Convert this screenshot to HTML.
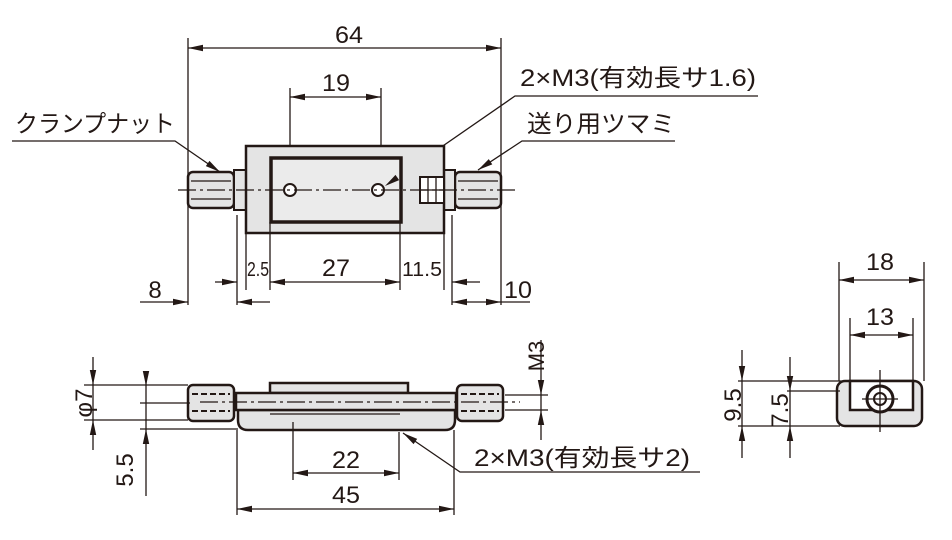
<!DOCTYPE html>
<html><head><meta charset="utf-8"><style>
html,body{margin:0;padding:0;background:#fff;width:952px;height:540px;overflow:hidden}
svg{display:block}
text{font-family:"Liberation Sans","Noto Sans CJK JP",sans-serif;fill:#231815}
</style></head><body>
<svg width="952" height="540" viewBox="0 0 952 540" xmlns="http://www.w3.org/2000/svg" xmlns:xlink="http://www.w3.org/1999/xlink">
<defs>
<path id="r" d="M-15,-3.2 L0,0 L-15,3.2 Z" fill="#231815"/>
</defs>
<g stroke="#231815" stroke-width="1.3" fill="none">
<line x1="188" y1="38" x2="188" y2="305"/><line x1="501" y1="38" x2="501" y2="305"/>
<line x1="188" y1="48" x2="501" y2="48"/>
<line x1="290" y1="88" x2="290" y2="200"/><line x1="381" y1="88" x2="381" y2="200"/>
<line x1="290" y1="97" x2="381" y2="97"/>
<polyline points="12,141 175,141 220,172"/>
<polyline points="758,96 515,96 385,186"/>
<polyline points="675,141 522,141 478,170"/>
<polyline points="700,472 460,472 403,433"/>
</g>
<!-- top view body -->
<g stroke="#231815" fill="#e4e4e4">
<rect x="188" y="172" width="46" height="36" rx="5" stroke-width="2.5"/>
<rect x="234" y="170" width="12" height="40" stroke-width="2"/>
<rect x="455" y="172" width="46" height="36" rx="5" stroke-width="2.5"/>
<rect x="444" y="170" width="11" height="40" stroke-width="2"/>
<rect x="246" y="146" width="198" height="87" stroke-width="2.5"/>
<rect x="271" y="158" width="130" height="64" stroke-width="3.5" fill="#ebebeb"/>
<rect x="420" y="177" width="24" height="26" stroke-width="2" fill="#fff"/>
<circle cx="290" cy="190" r="6" stroke-width="2" fill="#fff"/>
<circle cx="378" cy="190" r="6" stroke-width="2" fill="#fff"/>
</g>
<g stroke="#231815" stroke-width="1.3">
<line x1="191" y1="181" x2="231" y2="181"/><line x1="191" y1="199" x2="231" y2="199"/>
<line x1="458" y1="181" x2="498" y2="181"/><line x1="458" y1="199" x2="498" y2="199"/>
<line x1="428" y1="177" x2="428" y2="203"/><line x1="436" y1="177" x2="436" y2="203"/>
<line x1="420" y1="190" x2="444" y2="190"/>
<line x1="178" y1="190" x2="516" y2="190" stroke-dasharray="18,4,3,4"/>
<line x1="237" y1="215" x2="237" y2="305"/><line x1="246" y1="233" x2="246" y2="290"/>
<line x1="270" y1="222" x2="270" y2="290"/><line x1="400" y1="222" x2="400" y2="290"/>
<line x1="444" y1="233" x2="444" y2="290"/><line x1="452" y1="215" x2="452" y2="305"/>
<line x1="215" y1="282" x2="237" y2="282"/>
<line x1="270" y1="282" x2="400" y2="282"/>
<line x1="480" y1="282" x2="452" y2="282"/>
<line x1="140" y1="302" x2="188" y2="302"/>
<line x1="270" y1="302" x2="237" y2="302"/>
<line x1="452" y1="302" x2="530" y2="302"/>
</g>
<!-- side view -->
<g stroke="#231815" fill="#e4e4e4">
<path d="M238,410 L455,410 L455,420 Q455,430 445,430 L248,430 Q238,430 238,420 Z" stroke-width="2.5"/>
<rect x="270" y="383" width="138" height="10" stroke-width="2.5"/>
<rect x="236" y="393" width="220" height="17" stroke-width="2.5"/>
<rect x="188" y="385" width="46" height="36" rx="5" stroke-width="2.5"/>
<rect x="457" y="385" width="46" height="36" rx="5" stroke-width="2.5"/>
</g>
<g stroke="#231815" stroke-width="2" stroke-dasharray="6,3">
<line x1="192" y1="394" x2="230" y2="394"/><line x1="192" y1="411" x2="230" y2="411"/>
<line x1="461" y1="394" x2="499" y2="394"/><line x1="461" y1="411" x2="499" y2="411"/>
</g>
<g stroke="#231815" stroke-width="1.3">
<line x1="270" y1="414" x2="400" y2="414"/>
<line x1="200" y1="402" x2="520" y2="402" stroke-dasharray="18,4,3,4"/>
<line x1="84" y1="385" x2="188" y2="385"/><line x1="84" y1="420" x2="188" y2="420"/>
<line x1="93" y1="357" x2="93" y2="450"/>
<line x1="140" y1="403" x2="190" y2="403"/><line x1="140" y1="429" x2="238" y2="429"/>
<line x1="146" y1="373" x2="146" y2="496"/>
<line x1="505" y1="395" x2="548" y2="395"/><line x1="505" y1="410" x2="548" y2="410"/>
<line x1="541" y1="340" x2="541" y2="440"/>
<line x1="293" y1="422" x2="293" y2="480"/><line x1="399" y1="432" x2="399" y2="480"/>
<line x1="293" y1="473" x2="399" y2="473"/>
<line x1="237" y1="430" x2="237" y2="515"/><line x1="454" y1="430" x2="454" y2="515"/>
<line x1="237" y1="509" x2="454" y2="509"/>
</g>
<!-- end view -->
<g stroke="#231815" fill="#e4e4e4">
<rect x="837" y="381" width="85" height="45" rx="8" stroke-width="2.5"/>
<path d="M850,381 L913,381 L913,410 L850,410 Z" stroke-width="2.5" fill="#fff"/>
<circle cx="880" cy="399" r="13" stroke-width="3" fill="#fff"/>
<circle cx="880" cy="399" r="6" stroke-width="2" fill="#fff"/>
</g>
<g stroke="#231815" stroke-width="1.3">
<line x1="862" y1="399" x2="898" y2="399"/><line x1="880" y1="370" x2="880" y2="432"/>
<line x1="839" y1="262" x2="839" y2="381"/><line x1="924" y1="262" x2="924" y2="381"/>
<line x1="839" y1="280" x2="924" y2="280"/>
<line x1="850" y1="318" x2="850" y2="381"/><line x1="913" y1="318" x2="913" y2="381"/>
<line x1="850" y1="335" x2="913" y2="335"/>
<line x1="738" y1="381" x2="850" y2="381"/><line x1="787" y1="391" x2="840" y2="391"/>
<line x1="738" y1="426" x2="840" y2="426"/>
<line x1="742" y1="350" x2="742" y2="458"/>
<line x1="790" y1="357" x2="790" y2="458"/>
</g>
<!-- arrowheads -->
<g>
<use xlink:href="#r" href="#r" transform="translate(188,48) rotate(180)"/>
<use xlink:href="#r" href="#r" transform="translate(501,48)"/>
<use xlink:href="#r" href="#r" transform="translate(290,97) rotate(180)"/>
<use xlink:href="#r" href="#r" transform="translate(381,97)"/>
<use xlink:href="#r" href="#r" transform="translate(270,282) rotate(180)"/>
<use xlink:href="#r" href="#r" transform="translate(400,282)"/>
<use xlink:href="#r" href="#r" transform="translate(237,282)"/>
<use xlink:href="#r" href="#r" transform="translate(452,282) rotate(180)"/>
<use xlink:href="#r" href="#r" transform="translate(188,302)"/>
<use xlink:href="#r" href="#r" transform="translate(237,302) rotate(180)"/>
<use xlink:href="#r" href="#r" transform="translate(452,302) rotate(180)"/>
<use xlink:href="#r" href="#r" transform="translate(501,302)"/>
<use xlink:href="#r" href="#r" transform="translate(93,385) rotate(90)"/>
<use xlink:href="#r" href="#r" transform="translate(93,420) rotate(-90)"/>
<use xlink:href="#r" href="#r" transform="translate(146,386) rotate(90)"/>
<use xlink:href="#r" href="#r" transform="translate(146,429) rotate(-90)"/>
<use xlink:href="#r" href="#r" transform="translate(541,395) rotate(90)"/>
<use xlink:href="#r" href="#r" transform="translate(541,410) rotate(-90)"/>
<use xlink:href="#r" href="#r" transform="translate(293,473) rotate(180)"/>
<use xlink:href="#r" href="#r" transform="translate(399,473)"/>
<use xlink:href="#r" href="#r" transform="translate(237,509) rotate(180)"/>
<use xlink:href="#r" href="#r" transform="translate(454,509)"/>
<use xlink:href="#r" href="#r" transform="translate(839,280) rotate(180)"/>
<use xlink:href="#r" href="#r" transform="translate(924,280)"/>
<use xlink:href="#r" href="#r" transform="translate(850,335) rotate(180)"/>
<use xlink:href="#r" href="#r" transform="translate(913,335)"/>
<use xlink:href="#r" href="#r" transform="translate(742,381) rotate(90)"/>
<use xlink:href="#r" href="#r" transform="translate(742,426) rotate(-90)"/>
<use xlink:href="#r" href="#r" transform="translate(790,391) rotate(90)"/>
<use xlink:href="#r" href="#r" transform="translate(790,426) rotate(-90)"/>
<use xlink:href="#r" href="#r" transform="translate(220,172) rotate(34.6)"/>
<use xlink:href="#r" href="#r" transform="translate(385,186) rotate(145.3)"/>
<use xlink:href="#r" href="#r" transform="translate(478,170) rotate(146.6)"/>
<use xlink:href="#r" href="#r" transform="translate(403,433) rotate(214.4)"/>
</g>
<!-- text -->
<g font-size="24">
<text x="349" y="43" text-anchor="middle" textLength="28" lengthAdjust="spacingAndGlyphs">64</text>
<text x="336" y="91" text-anchor="middle" textLength="28" lengthAdjust="spacingAndGlyphs">19</text>
<text x="336" y="276" text-anchor="middle" textLength="28" lengthAdjust="spacingAndGlyphs">27</text>
<text x="258" y="276" text-anchor="middle" font-size="20" textLength="22" lengthAdjust="spacingAndGlyphs">2.5</text>
<text x="422" y="276" text-anchor="middle" font-size="20" textLength="40" lengthAdjust="spacingAndGlyphs">11.5</text>
<text x="155" y="298" text-anchor="middle">8</text>
<text x="518" y="298" text-anchor="middle" textLength="28" lengthAdjust="spacingAndGlyphs">10</text>
<text x="346" y="468" text-anchor="middle" textLength="28" lengthAdjust="spacingAndGlyphs">22</text>
<text x="346" y="503" text-anchor="middle" textLength="28" lengthAdjust="spacingAndGlyphs">45</text>
<text x="880" y="270" text-anchor="middle" textLength="28" lengthAdjust="spacingAndGlyphs">18</text>
<text x="880" y="325" text-anchor="middle" textLength="28" lengthAdjust="spacingAndGlyphs">13</text>
<text transform="translate(92,403) rotate(-90)" text-anchor="middle">φ7</text>
<text transform="translate(133,470) rotate(-90)" text-anchor="middle">5.5</text>
<text transform="translate(544,356) rotate(-90)" text-anchor="middle" font-size="22">M3</text>
<text transform="translate(741,405) rotate(-90)" text-anchor="middle">9.5</text>
<text transform="translate(788,410) rotate(-90)" text-anchor="middle">7.5</text>
<text x="520" y="86" textLength="236" lengthAdjust="spacingAndGlyphs">2×M3(有効長サ1.6)</text>
<text x="527" y="132" textLength="148" lengthAdjust="spacingAndGlyphs">送り用ツマミ</text>
<text x="15" y="132" textLength="160" lengthAdjust="spacingAndGlyphs">クランプナット</text>
<text x="474" y="466" textLength="216" lengthAdjust="spacingAndGlyphs">2×M3(有効長サ2)</text>
</g>
</svg>
</body></html>
